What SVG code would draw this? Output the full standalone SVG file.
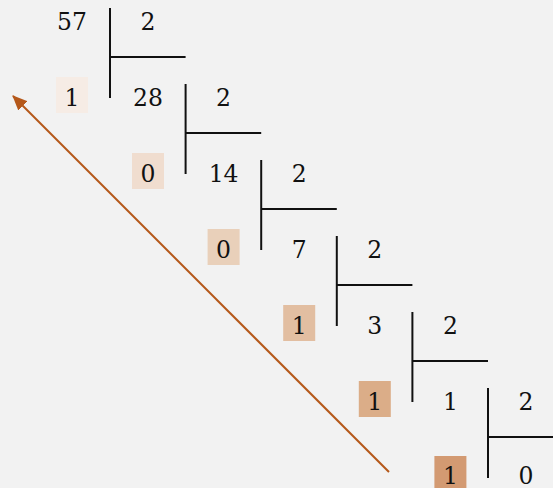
<svg xmlns="http://www.w3.org/2000/svg" width="553" height="488" viewBox="0 0 553 488">
<style>
text{font-family:"DejaVu Serif","Liberation Serif",serif;font-size:23.5px;fill:#111;text-anchor:middle}
.ln{stroke:#111;stroke-width:2;fill:none}
.arrow{stroke:#b5581a;stroke-width:2;fill:none}
</style>
<defs>
<marker id="ah" markerWidth="15" markerHeight="13" refX="14" refY="6.5" orient="auto" markerUnits="userSpaceOnUse">
<path d="M0,0 L15,6.5 L0,13 Z" fill="#b5581a"/>
</marker>
</defs>
<rect width="553" height="488" fill="#f2f2f2"/>
<g id="connectors">
<line class="arrow" x1="389" y1="472" x2="13" y2="96" marker-end="url(#ah)"/>
</g>
<g id="step0">
<text x="72" y="29.5">57</text><text x="148" y="29.5">2</text>
<line class="ln" x1="110" y1="8" x2="110" y2="98"/><line class="ln" x1="110" y1="57" x2="185.6" y2="57"/>
</g>
<g id="rem0"><rect x="56" y="77" width="32" height="36" fill="#f6ece5"/><text x="72" y="105.5">1</text></g>
<g id="step1">
<text x="148" y="105.5">28</text><text x="223.6" y="105.5">2</text>
<line class="ln" x1="185.6" y1="84" x2="185.6" y2="174"/><line class="ln" x1="185.6" y1="133" x2="261.2" y2="133"/>
</g>
<g id="rem1"><rect x="132" y="153" width="32" height="36" fill="#f0ddcf"/><text x="148" y="181.5">0</text></g>
<g id="step2">
<text x="223.6" y="181.5">14</text><text x="299.2" y="181.5">2</text>
<line class="ln" x1="261.2" y1="160" x2="261.2" y2="250"/><line class="ln" x1="261.2" y1="209" x2="336.8" y2="209"/>
</g>
<g id="rem2"><rect x="207.6" y="229" width="32" height="36" fill="#e9d0ba"/><text x="223.6" y="257.5">0</text></g>
<g id="step3">
<text x="299.2" y="257.5">7</text><text x="374.8" y="257.5">2</text>
<line class="ln" x1="336.8" y1="236" x2="336.8" y2="326"/><line class="ln" x1="336.8" y1="285" x2="412.4" y2="285"/>
</g>
<g id="rem3"><rect x="283.2" y="305" width="32" height="36" fill="#e2bea1"/><text x="299.2" y="333.5">1</text></g>
<g id="step4">
<text x="374.8" y="333.5">3</text><text x="450.4" y="333.5">2</text>
<line class="ln" x1="412.4" y1="312" x2="412.4" y2="402"/><line class="ln" x1="412.4" y1="361" x2="488" y2="361"/>
</g>
<g id="rem4"><rect x="358.8" y="381" width="32" height="36" fill="#dbad88"/><text x="374.8" y="409.5">1</text></g>
<g id="step5">
<text x="450.4" y="409.5">1</text><text x="526" y="409.5">2</text>
<line class="ln" x1="488" y1="388" x2="488" y2="478"/><line class="ln" x1="488" y1="437" x2="553" y2="437"/>
</g>
<g id="rem5"><rect x="434.4" y="456" width="32" height="36" fill="#d39a72"/><text x="450.4" y="484">1</text></g>
<g id="quot"><text x="526" y="484">0</text></g>
</svg>
